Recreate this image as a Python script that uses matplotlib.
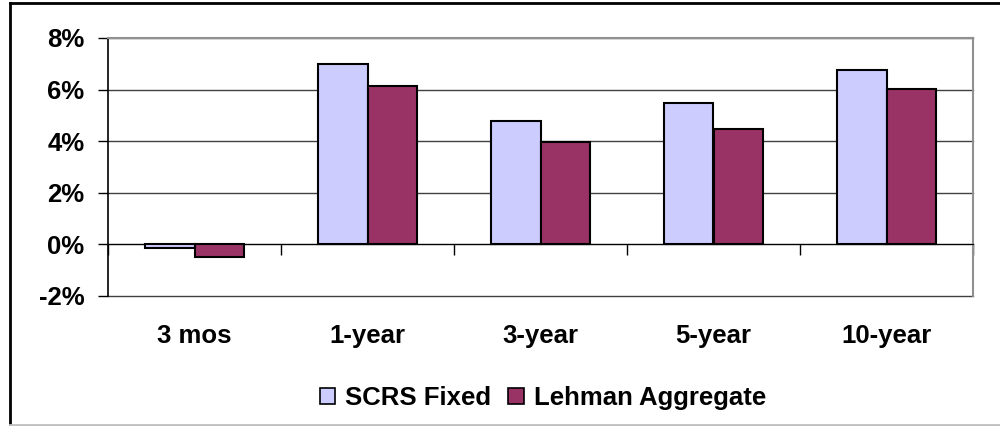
import matplotlib
matplotlib.use("Agg")
import matplotlib.pyplot as plt
import numpy as np
from matplotlib.lines import Line2D
from matplotlib.patches import Patch
from matplotlib.ticker import FuncFormatter

plt.rcParams["font.family"] = ["Liberation Sans", "DejaVu Sans"]
plt.rcParams["font.weight"] = "bold"

categories = ["3 mos", "1-year", "3-year", "5-year", "10-year"]
scrs_fixed = [-0.15, 7.0, 4.8, 5.48, 6.77]
lehman_aggregate = [-0.49, 6.13, 3.98, 4.48, 6.02]
series_names = ["SCRS Fixed", "Lehman Aggregate"]
series_colors = ["#CCCCFF", "#993366"]
y_ticks = [-2, 0, 2, 4, 6, 8]

FS = 18.5

fig = plt.figure(figsize=(10, 4.26), dpi=100)
ax = fig.add_axes([0.108, 0.3052, 0.865, 0.6056])

x = np.arange(len(categories))
w = 0.287
for i, (vals, color) in enumerate(zip([scrs_fixed, lehman_aggregate], series_colors)):
    ax.bar(x + (i - 0.5) * w, vals, w, color=color, edgecolor="black", linewidth=1.5, zorder=3)

ax.set_xlim(-0.5, len(categories) - 0.5)
ax.set_ylim(-2, 8)
ax.set_yticks(y_ticks)
ax.yaxis.set_major_formatter(FuncFormatter(lambda v, _: f"{v:.0f}%"))
ax.tick_params(axis="y", length=7, width=1, direction="out", pad=10, labelsize=FS)
ax.yaxis.grid(True, color="#404040", linewidth=1)
for gl in ax.yaxis.get_gridlines():
    gl.set_clip_on(False)
ax.set_axisbelow(True)

# category axis sits on the zero line with ticks between groups
ax.spines["bottom"].set_position(("data", 0))
ax.spines["bottom"].set_color("black")
ax.set_xticks(np.arange(len(categories) + 1) - 0.5)
ax.tick_params(axis="x", length=8, width=1, direction="out", labelbottom=False)

sec = ax.secondary_xaxis("bottom")
sec.set_xticks(x, categories)
sec.tick_params(length=0, pad=20, labelsize=FS)
sec.spines["bottom"].set_visible(False)

ax.spines["left"].set_color("black")
ax.spines["left"].set_linewidth(1.2)
ax.spines["top"].set_color("#909090")
ax.spines["right"].set_color("#909090")
ax.spines["top"].set_linewidth(1.5)
ax.spines["right"].set_linewidth(1.5)

handles = [Patch(facecolor=c, edgecolor="black", linewidth=1.2) for c in series_colors]
fig.legend(handles, series_names, loc="center", bbox_to_anchor=(0.543, 1 - 398 / 426),
           ncol=2, frameon=False, fontsize=FS, handlelength=0.6, handleheight=0.6,
           handletextpad=0.4, columnspacing=0.65)

# chart-area border (right edge is off the picture)
fig.add_artist(Line2D([0.010, 1.0], [1 - 3 / 426] * 2, color="black", linewidth=2, transform=fig.transFigure))
fig.add_artist(Line2D([0.010, 0.010], [1 / 426, 1 - 3 / 426], color="black", linewidth=2, transform=fig.transFigure))
fig.add_artist(Line2D([0.010, 1.0], [1 / 426] * 2, color="#c0c0c0", linewidth=2, transform=fig.transFigure))

fig.savefig("out.png", dpi=100)
